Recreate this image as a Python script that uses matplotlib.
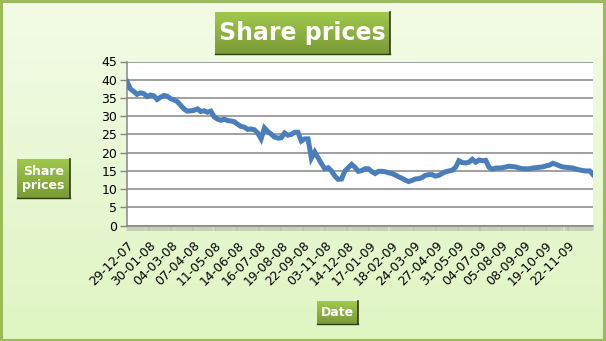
import numpy as np
import matplotlib

matplotlib.use("Agg")
import matplotlib.pyplot as plt
from matplotlib.colors import LinearSegmentedColormap
from matplotlib.patches import Rectangle
from matplotlib.ticker import MultipleLocator


# share price (roughly one value per ~3 px)
PRICES = [
    39.5, 37.5, 36.8, 36.0, 36.4, 36.2, 35.4, 35.8, 35.6, 34.6,
    35.2, 35.7, 35.5, 34.8, 34.5, 34.0, 33.0, 32.0, 31.4, 31.5,
    31.6, 32.0, 31.3, 31.5, 31.1, 31.4, 29.8, 29.2, 28.9, 29.2,
    28.8, 28.7, 28.5, 27.8, 27.2, 27.0, 26.4, 26.5, 26.3, 25.4,
    23.8, 26.8, 25.8, 25.1, 24.3, 24.0, 24.1, 25.4, 24.8, 25.0,
    25.6, 25.6, 23.2, 23.8, 23.8, 18.5, 20.2, 18.6,
    17.0, 15.6, 15.9, 15.0, 13.6, 12.7, 12.8, 15.0, 15.9, 16.8,
    16.0, 14.9, 15.1, 15.6, 15.6, 14.8, 14.3, 14.9, 14.9, 14.8,
    14.5, 14.3, 13.9, 13.4, 13.0, 12.5, 12.1, 12.4, 12.8, 12.9,
    13.2, 13.8, 14.0, 14.0, 13.6, 13.8, 14.3, 14.8, 15.0, 15.2,
    16.0, 17.8, 17.3, 17.2, 17.4, 18.2, 17.4, 18.0, 17.8, 17.9,
    16.0, 15.5, 15.8, 15.8, 15.9, 16.1, 16.3, 16.2, 16.1, 15.8,
    15.6, 15.6, 15.6, 15.8, 15.9, 16.0, 16.1, 16.4, 16.6, 17.1,
    16.8, 16.4, 16.1, 16.0, 15.9, 15.8, 15.5, 15.3, 15.1, 15.0,
    15.0, 14.0,
]

DATE_LABELS = [
    "29-12-07", "30-01-08", "04-03-08", "07-04-08", "11-05-08", "14-06-08",
    "16-07-08", "19-08-08", "22-09-08", "03-11-08", "14-12-08", "17-01-09",
    "18-02-09", "24-03-09", "27-04-09", "31-05-09", "04-07-09", "05-08-09",
    "08-09-09", "19-10-09", "22-11-09",
]

W, H = 606, 341
LABEL_STEP = 6.575  # categories between dated tick labels
GRID = "#868686"

BG_CMAP = LinearSegmentedColormap.from_list("bg", ["#f3fbe6", "#dff5c2"])
BOX_CMAP = LinearSegmentedColormap.from_list("box", ["#a0c84c", "#7a9a36"])


def px_rect(left, top, width, height):
    return [left / W, 1 - (top + height) / H, width / W, height / H]


def green_box(fig, left, top, width, height, text, size):
    bx = fig.add_axes(px_rect(left, top, width, height))
    grad = np.linspace(0, 1, 64).reshape(-1, 1)
    bx.imshow(grad, cmap=BOX_CMAP, aspect="auto", extent=[0, 1, 0, 1], origin="upper")
    bx.plot([1, 1], [0, 1], color="#2f3a18", lw=1.2, transform=bx.transAxes, clip_on=False)
    bx.plot([0, 1], [0, 0], color="#2f3a18", lw=1.0, transform=bx.transAxes, clip_on=False)
    bx.set_xlim(0, 1)
    bx.set_ylim(0, 1)
    bx.axis("off")
    bx.text(0.5, 0.5, text, color="white", fontsize=size, fontweight="bold",
            ha="center", va="center", linespacing=1.15, transform=bx.transAxes)
    bx.set_zorder(3)
    return bx


fig = plt.figure(figsize=(W / 100, H / 100), dpi=100)

# light green gradient background with a green frame
bg = fig.add_axes([0, 0, 1, 1])
bg.imshow(np.linspace(0, 1, 128).reshape(-1, 1), cmap=BG_CMAP, aspect="auto",
          extent=[0, 1, 0, 1], origin="upper")
bg.set_xlim(0, 1)
bg.set_ylim(0, 1)
bg.axis("off")
bg.add_patch(Rectangle((0.002, 0.003), 0.995, 0.994, transform=bg.transAxes,
                       fill=False, edgecolor="#9bbb59", lw=2.2))
bg.set_zorder(0)

ax = fig.add_axes([127 / W, 1 - 225.7 / H, 466 / W, 164.2 / H])
ax.set_zorder(2)
ax.set_facecolor("white")

x = np.arange(len(PRICES))
ax.plot(x, PRICES, color="#4a7ebb", lw=3.6, solid_joinstyle="miter", zorder=3)

ax.set_xlim(0, len(PRICES) - 1)
ax.set_ylim(0, 45)
ax.set_yticks(range(0, 46, 5))
ax.yaxis.grid(True, color=GRID, lw=1.1)
ax.set_axisbelow(True)

for side in ("top", "right"):
    ax.spines[side].set_visible(False)
for side in ("left", "bottom"):
    ax.spines[side].set_color(GRID)
    ax.spines[side].set_linewidth(1.1)

ax.set_xticks(np.arange(len(DATE_LABELS)) * LABEL_STEP)
ax.set_xticklabels(DATE_LABELS, rotation=45, ha="right", rotation_mode="anchor", fontsize=9)
ax.xaxis.set_minor_locator(MultipleLocator(0.3))
ax.tick_params(axis="x", which="both", length=3.5, width=0.35, color="#a0a0a0", pad=6)
ax.tick_params(axis="y", length=5, width=1, color=GRID, labelsize=9, pad=2)

green_box(fig, 215, 12, 175, 42, "Share prices", 17)
green_box(fig, 17, 159, 53, 39, "Share\nprices", 9)
green_box(fig, 317, 301, 41, 23, "Date", 9)

fig.savefig("out.png", dpi=100)
